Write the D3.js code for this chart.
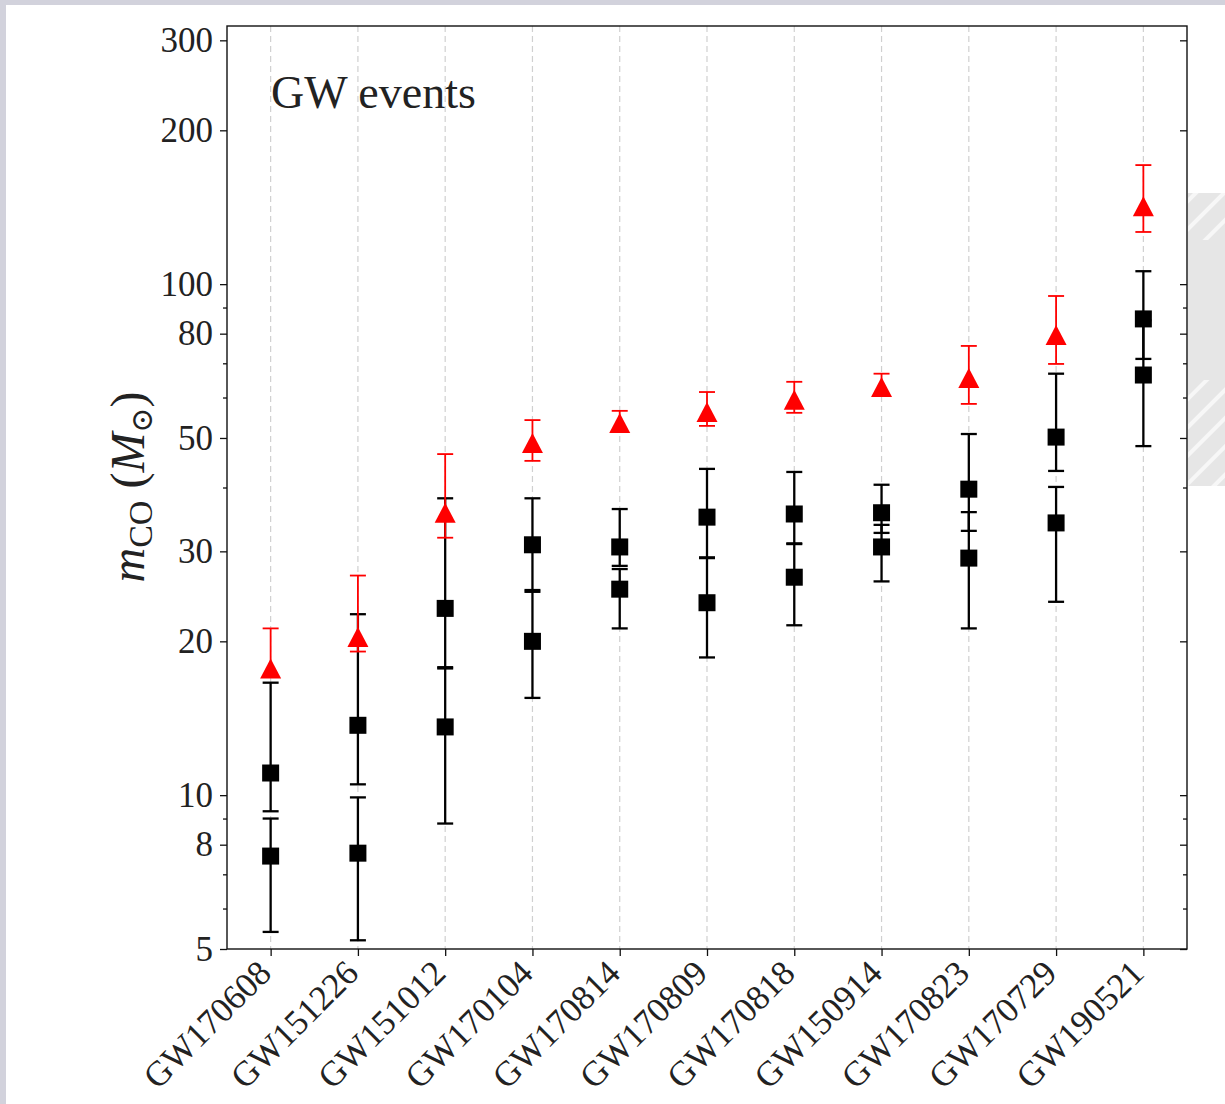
<!DOCTYPE html>
<html>
<head>
<meta charset="utf-8">
<script src="https://cdn.jsdelivr.net/npm/d3@7"></script>
<style>
html,body{margin:0;padding:0;background:#fff;}
svg{display:block;}
text{font-family:"Liberation Serif","Times New Roman",serif;}
</style>
</head>
<body>
<script>
// ---------------- data ----------------
const events = ["GW170608","GW151226","GW151012","GW170104","GW170814","GW170809","GW170818","GW150914","GW170823","GW170729","GW190521"];

// red triangles
const redVal = [17.7, 20.4, 35.7, 48.9, 53.5, 56.2, 59.4, 62.9, 65.5, 79.5, 142];
const redLo  = [17.1, 19.1, 31.9, 45.1, 51.6, 52.8, 56.0, 60.7, 58.3, 69.8, 126.5];
const redHi  = [21.2, 26.9, 46.5, 54.2, 56.5, 61.5, 64.4, 66.8, 75.7, 94.8, 171];

// black squares, upper point
const aVal = [11.05, 13.7, 23.2, 30.9, 30.6, 35.0, 35.5, 35.7, 39.7, 50.2, 85.5];
const aLo  = [9.3, 10.5, 17.7, 25.0, 28.1, 29.1, 31.0, 32.6, 32.9, 43.1, 71.4];
const aHi  = [16.6, 22.6, 38.1, 38.1, 36.3, 43.5, 42.9, 40.5, 50.9, 66.8, 106];

// black squares, lower point
const bVal = [7.6, 7.7, 13.6, 20.0, 25.3, 23.8, 26.7, 30.6, 29.1, 34.1, 66.4];
const bLo  = [5.4, 5.2, 8.8, 15.5, 21.2, 18.6, 21.5, 26.2, 21.2, 23.9, 48.2];
const bHi  = [9.0, 9.9, 17.8, 25.2, 27.7, 29.2, 31.1, 33.8, 35.8, 40.1, 85];

const yMajor = [5, 8, 10, 20, 30, 50, 80, 100, 200, 300];
const yMinor = [6, 7, 9, 40, 60, 70, 90];

// ---------------- layout ----------------
const W = 1225, H = 1104;
const L = 227, R = 1187, T = 26, B = 949;

const svg = d3.select("body").append("svg").attr("width", W).attr("height", H);

// page background decoration (screenshot frame)
svg.append("rect").attr("x",0).attr("y",0).attr("width",W).attr("height",H).attr("fill","#fff");
svg.append("rect").attr("x",0).attr("y",0).attr("width",W).attr("height",5).attr("fill","#d2d2dc");
svg.append("rect").attr("x",0).attr("y",0).attr("width",6).attr("height",H).attr("fill","#d2d2dc");
const defs = svg.append("defs");
const pat = defs.append("pattern").attr("id","stripes").attr("patternUnits","userSpaceOnUse")
  .attr("width",20).attr("height",20).attr("patternTransform","rotate(45)");
pat.append("rect").attr("width",20).attr("height",20).attr("fill","#e6e6e6");
pat.append("rect").attr("width",4).attr("height",20).attr("fill","#f7f7f7");
svg.append("rect").attr("x",1188).attr("y",193).attr("width",37).attr("height",47).attr("fill","url(#stripes)");
svg.append("rect").attr("x",1188).attr("y",240).attr("width",37).attr("height",140).attr("fill","#e6e6e6");
svg.append("rect").attr("x",1188).attr("y",380).attr("width",37).attr("height",106).attr("fill","url(#stripes)");

const x = d3.scaleLinear().domain([-0.5, events.length - 0.5]).range([L, R]);
const y = d3.scaleLog().domain([5, 320]).range([B, T]);

// grid
svg.append("g").selectAll("line").data(events).join("line")
  .attr("x1",(d,i)=>x(i)).attr("x2",(d,i)=>x(i)).attr("y1",T).attr("y2",B)
  .attr("stroke","#d0d0d0").attr("stroke-width",1.2).attr("stroke-dasharray","6,4");

// axes
const axL = svg.append("g").attr("transform",`translate(${L},0)`)
  .call(d3.axisLeft(y).tickValues(yMajor).tickFormat(d3.format("d")).tickSize(7).tickPadding(7));
const axLm = svg.append("g").attr("transform",`translate(${L},0)`)
  .call(d3.axisLeft(y).tickValues(yMinor).tickFormat("").tickSize(4));
const axR = svg.append("g").attr("transform",`translate(${R},0)`)
  .call(d3.axisRight(y).tickValues(yMajor).tickFormat("").tickSize(-7));
const axRm = svg.append("g").attr("transform",`translate(${R},0)`)
  .call(d3.axisRight(y).tickValues(yMinor).tickFormat("").tickSize(-4));
const axB = svg.append("g").attr("transform",`translate(0,${B})`)
  .call(d3.axisBottom(x).tickValues(d3.range(events.length)).tickFormat(i=>events[i]).tickSize(7));
[axL,axLm,axR,axRm,axB].forEach(g=>{
  g.select(".domain").remove();
  g.selectAll(".tick line").attr("stroke","#111").attr("stroke-width",1.3);
});
axL.selectAll(".tick text").attr("font-size",35).attr("fill","#222")
  .attr("font-family","Liberation Serif, serif");
axB.selectAll(".tick text").attr("font-size",35).attr("fill","#222")
  .attr("font-family","Liberation Serif, serif")
  .attr("text-anchor","end").attr("dy",0).attr("y",0).attr("x",0)
  .attr("transform","translate(2,26) rotate(-45)");

// frame
svg.append("rect").attr("x",L).attr("y",T).attr("width",R-L).attr("height",B-T)
  .attr("fill","none").attr("stroke","#111").attr("stroke-width",1.4);

// error bars + markers
function errorSeries(vals, lo, hi, color, lw){
  const g = svg.append("g");
  const data = vals.map((v,i)=>({i, v, lo:lo[i], hi:hi[i]}));
  g.selectAll("line.v").data(data).join("line").attr("class","v")
    .attr("x1",d=>x(d.i)).attr("x2",d=>x(d.i)).attr("y1",d=>y(d.lo)).attr("y2",d=>y(d.hi))
    .attr("stroke",color).attr("stroke-width",lw);
  ["lo","hi"].forEach(k=>{
    g.selectAll("line.c"+k).data(data).join("line").attr("class","c"+k)
      .attr("x1",d=>x(d.i)-8).attr("x2",d=>x(d.i)+8).attr("y1",d=>y(d[k])).attr("y2",d=>y(d[k]))
      .attr("stroke",color).attr("stroke-width",lw);
  });
  return {g, data};
}
function squares(s){
  s.g.selectAll("rect").data(s.data).join("rect")
    .attr("x",d=>x(d.i)-8.5).attr("y",d=>y(d.v)-8.5).attr("width",17).attr("height",17)
    .attr("fill","#000");
}
const sA = errorSeries(aVal, aLo, aHi, "#000", 2.3); squares(sA);
const sB = errorSeries(bVal, bLo, bHi, "#000", 2.3); squares(sB);
const sR = errorSeries(redVal, redLo, redHi, "#ff0000", 1.8);
sR.g.selectAll("path").data(sR.data).join("path")
  .attr("d",d=>{const cx=x(d.i), cy=y(d.v); return `M${cx},${cy-10}L${cx+10.5},${cy+10}L${cx-10.5},${cy+10}Z`;})
  .attr("fill","#ff0000");

// annotation
svg.append("text").attr("x",271).attr("y",108).attr("font-size",46).attr("fill","#222")
  .text("GW events");

// y label
const yl = svg.append("text").attr("transform","translate(144,487) rotate(-90)")
  .attr("text-anchor","middle").attr("font-size",48).attr("fill","#222");
yl.append("tspan").attr("font-style","italic").text("m");
yl.append("tspan").attr("font-size",34).attr("dy",8).text("CO");
yl.append("tspan").attr("dy",-8).text(" (");
yl.append("tspan").attr("font-style","italic").text("M");
yl.append("tspan").attr("font-size",30).attr("dy",8).attr("font-family","DejaVu Serif, serif").text("⊙");
yl.append("tspan").attr("dy",-8).text(")");
</script>
</body>
</html>
